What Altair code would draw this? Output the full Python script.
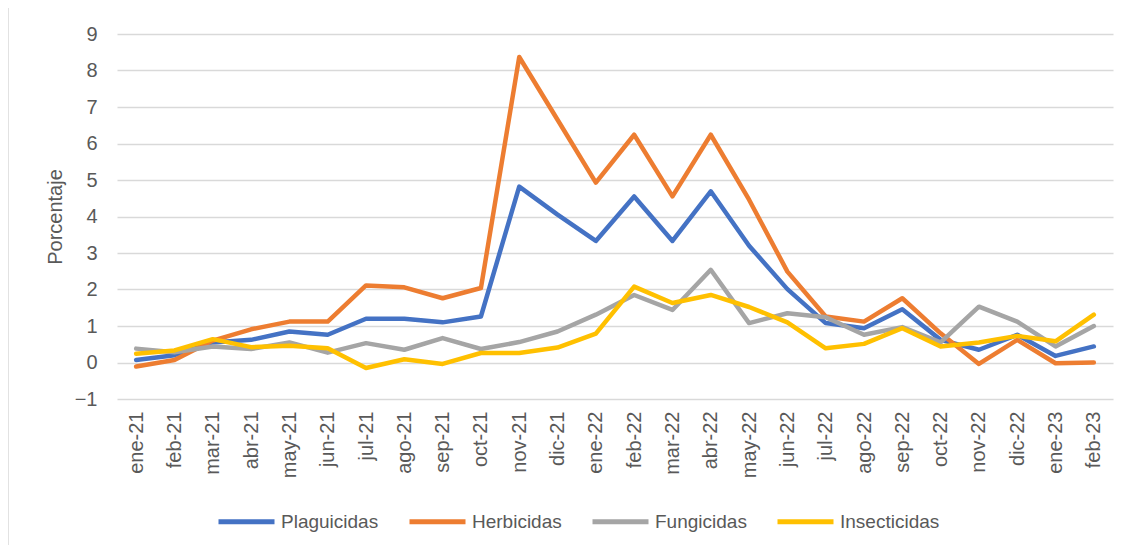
import altair as alt
import pandas as pd

months = ["ene-21", "feb-21", "mar-21", "abr-21", "may-21", "jun-21", "jul-21", "ago-21",
          "sep-21", "oct-21", "nov-21", "dic-21", "ene-22", "feb-22", "mar-22", "abr-22",
          "may-22", "jun-22", "jul-22", "ago-22", "sep-22", "oct-22", "nov-22", "dic-22",
          "ene-23", "feb-23"]

series_names = ["Plaguicidas", "Herbicidas", "Fungicidas", "Insecticidas"]
series_colors = ["#4472C4", "#ED7D31", "#A5A5A5", "#FFC000"]

plaguicidas = [0.07, 0.2, 0.55, 0.62, 0.85, 0.76, 1.2, 1.2, 1.1, 1.26, 4.82, 4.05, 3.33,
               4.55, 3.33, 4.69, 3.2, 2.01, 1.08, 0.94, 1.46, 0.62, 0.35, 0.76, 0.18, 0.44]
herbicidas = [-0.11, 0.07, 0.6, 0.91, 1.12, 1.12, 2.11, 2.06, 1.76, 2.04, 8.37, 6.65, 4.93,
              6.24, 4.55, 6.24, 4.46, 2.49, 1.26, 1.12, 1.76, 0.8, -0.04, 0.62, -0.02, 0.0]
fungicidas = [0.38, 0.28, 0.44, 0.37, 0.55, 0.27, 0.53, 0.35, 0.67, 0.37, 0.56, 0.85, 1.31,
              1.85, 1.44, 2.54, 1.08, 1.35, 1.24, 0.76, 0.97, 0.55, 1.53, 1.12, 0.44, 1.0]
insecticidas = [0.24, 0.33, 0.64, 0.42, 0.46, 0.39, -0.15, 0.09, -0.04, 0.26, 0.26, 0.41, 0.79,
                2.08, 1.63, 1.85, 1.52, 1.1, 0.39, 0.51, 0.94, 0.44, 0.55, 0.73, 0.58, 1.31]

y_ticks = list(range(-1, 10))

rows = []
for name, vals in zip(series_names, [plaguicidas, herbicidas, fungicidas, insecticidas]):
    for m, v in zip(months, vals):
        rows.append({"mes": m, "serie": name, "valor": v, "orden": series_names.index(name)})
df = pd.DataFrame(rows)

FONT = "Liberation Sans"
TXT = "#595959"

lines = alt.Chart(df).mark_line(strokeWidth=4.5, strokeJoin="round", strokeCap="round").encode(
    x=alt.X("mes:N", sort=months, title=None,
            scale=alt.Scale(paddingOuter=0.5, paddingInner=0),
            axis=alt.Axis(labelAngle=-90, labelAlign="right", labelBaseline="middle",
                          labelFontSize=20, labelColor=TXT, labelFont=FONT, labelPadding=12,
                          ticks=False, domain=False, grid=False)),
    y=alt.Y("valor:Q", title="Porcentaje",
            scale=alt.Scale(domain=[-1, 9], nice=False, zero=False),
            axis=alt.Axis(values=y_ticks, labelFontSize=20, labelColor=TXT, labelFont=FONT,
                          labelPadding=20, ticks=False, domain=False, grid=True,
                          gridColor="#D9D9D9", gridWidth=1.5,
                          titleFontSize=20, titleColor=TXT, titleFont=FONT,
                          titleFontWeight="normal", titleX=-52)),
    color=alt.Color("serie:N", sort=series_names,
                    scale=alt.Scale(domain=series_names, range=series_colors),
                    legend=alt.Legend(title=None, orient="none", direction="horizontal",
                                      legendX=99, legendY=457,
                                      symbolType="stroke", symbolSize=3136, symbolStrokeWidth=5,
                                      labelFontSize=19, labelColor=TXT, labelFont=FONT,
                                      labelOffset=4, columnPadding=20)),
    detail="serie:N",
    order=alt.Order("orden:Q"),
)

border = alt.Chart(pd.DataFrame({"a": [0]})).mark_rect(
    fill=None, stroke="#D9D9D9", strokeWidth=1.5
).encode(
    x=alt.value(-109), x2=alt.value(1030), y=alt.value(-29), y2=alt.value(540)
)

chart = alt.layer(border, lines).properties(
    width=996, height=365,
    padding={"left": 109, "top": 26, "right": 14, "bottom": 146},
    autosize=alt.AutoSizeParams(type="none"),
    background="white",
).configure_view(stroke=None)

chart.save("out.html", embed_options={"renderer": "svg", "actions": False})
